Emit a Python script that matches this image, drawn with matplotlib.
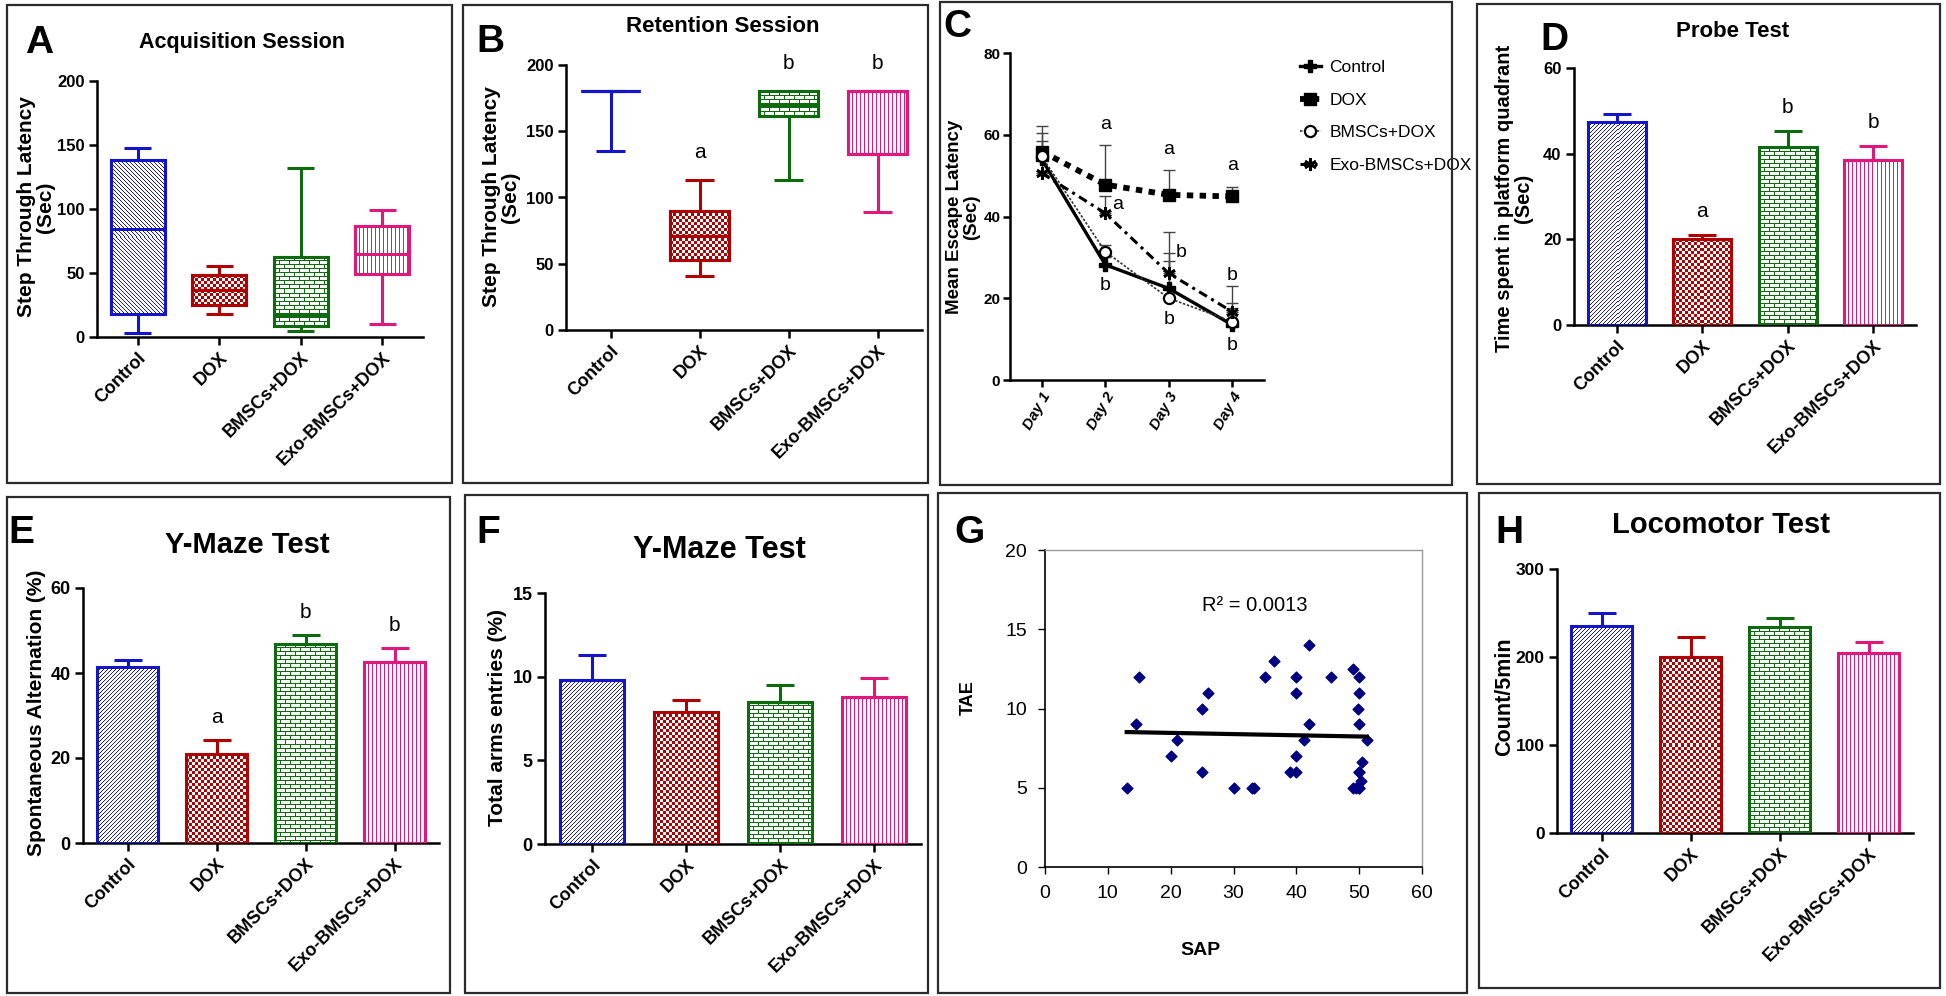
import numpy as np
import matplotlib
matplotlib.use("Agg")
import matplotlib.pyplot as plt
from matplotlib.patches import Rectangle, PathPatch
from matplotlib.colors import to_rgb

plt.rcParams['font.family'] = ['Liberation Sans', 'DejaVu Sans']
plt.rcParams['font.weight'] = 'bold'
plt.rcParams['axes.labelweight'] = 'bold'

# ---- data ----
groups = ['Control', 'DOX', 'BMSCs+DOX', 'Exo-BMSCs+DOX']
colors = ['#1414c8', '#b00000', '#0c6b0c', '#e0187c']

# A: acquisition session (box plots)
acq_whislo = [3, 17.7, 4.7, 10]
acq_q1 = [18, 25, 8.3, 49]
acq_med = [84, 37, 17, 65]
acq_q3 = [138.5, 48.4, 62.5, 87]
acq_whishi = [148, 55.5, 132, 99.5]

# B: retention session (box plots)
ret_whislo = [135, 41, 113, 89]
ret_q1 = [180, 53, 161.5, 133]
ret_med = [180, 71, 170, 180]
ret_q3 = [180, 90, 180, 180]
ret_whishi = [180, 113, 180, 180]
ret_sig = ['', 'a', 'b', 'b']

# C: Morris water maze escape latency
days = [1, 2, 3, 4]
day_labels = ['Day 1', 'Day 2', 'Day 3', 'Day 4']
mwm_control = [54.0, 28.2, 22.4, 13.5]
mwm_control_err = [4.4, 1.8, 6.6, 4.1]
mwm_dox = [55.9, 47.8, 45.3, 44.9]
mwm_dox_err = [6.3, 9.6, 6.1, 2.4]
mwm_bmsc = [54.7, 31.4, 20.0, 14.3]
mwm_bmsc_err = [5.7, 1.6, 11.0, 4.5]
mwm_exo = [50.6, 40.8, 26.1, 16.7]
mwm_exo_err = [3.4, 4.2, 10.2, 6.3]
sig_vs_control = ['', 'a', 'a', 'a']
sig_exo = ['', 'a', 'b', 'b']
sig_treated = ['', 'b', 'b', 'b']

# D: probe test
probe_mean = [47.3, 20.0, 41.5, 38.5]
probe_err = [2.0, 1.1, 3.9, 3.4]
probe_sig = ['', 'a', 'b', 'b']

# E: Y-maze spontaneous alternation
alt_mean = [41.3, 21.0, 46.9, 42.6]
alt_err = [1.8, 3.2, 2.0, 3.3]
alt_sig = ['', 'a', 'b', 'b']

# F: Y-maze total arm entries
arm_mean = [9.8, 7.9, 8.5, 8.8]
arm_err = [1.5, 0.7, 1.0, 1.1]

# G: SAP vs TAE scatter (some markers overlap near SAP 50)
sap = [13, 14.5, 15, 20, 21, 25, 25, 26, 30, 33, 33.3, 35, 36.5, 40, 40, 42,
       41.2, 40, 39, 40, 42, 45.5, 49, 50, 50, 49.8, 50, 51.2, 50.5, 50, 50.3, 49, 50,
       50, 49.5, 50]
tae = [5, 9, 12, 7, 8, 10, 6, 11, 5, 5, 5, 12, 13, 12, 11, 9,
       8, 7, 6, 6, 14, 12, 12.5, 12, 11, 10, 9, 8, 6.6, 6, 5.4, 5, 5,
       5, 5, 6]

# H: locomotor test
loco_mean = [235, 200, 234, 204]
loco_err = [15, 23, 10, 13]

W, H = 1946, 996
fig = plt.figure(figsize=(W / 100, H / 100), dpi=100)


def px_rect(l, t, r, b):
    return [l / W, 1 - b / H, (r - l) / W, (b - t) / H]


def fpos(x, y):
    return (x / W, 1 - y / H)


def fill_pattern(ax, patch, kind, color):
    bb = patch.get_window_extent()
    w, h = int(round(bb.width)), int(round(bb.height))
    if w < 3 or h < 3:
        return
    r, c = np.mgrid[0:h, 0:w]
    if kind == 'diag':
        mask = (r + c) % 4 == 0
    elif kind == 'rdiag':
        mask = (c - r) % 4 == 0
    elif kind == 'checker':
        mask = (r // 3 + c // 3) % 2 == 0
    elif kind == 'brick':
        mask = (r % 4 == 0) | ((c + 5 * ((r // 4) % 2)) % 10 == 0)
    else:
        mask = c % 4 == 0
    img = np.ones((h, w, 4))
    img[mask, :3] = to_rgb(color)
    inv = ax.transData.inverted()
    (x0, y0), (x1, y1) = inv.transform([(bb.x0, bb.y0), (bb.x1, bb.y1)])
    im = ax.imshow(img, extent=(x0, x1, y0, y1), origin='upper', aspect='auto',
                   interpolation='nearest', zorder=2.5)
    im.set_clip_path(patch)


def prism_axes(ax, ymax, step, ysize=12):
    ax.set_xlim(-0.5, 3.5)
    ax.set_ylim(0, ymax)
    ax.set_autoscale_on(False)
    for s in ['top', 'right']:
        ax.spines[s].set_visible(False)
    for s in ['left', 'bottom']:
        ax.spines[s].set_linewidth(1.8)
    ax.set_yticks(np.arange(0, ymax + step / 2, step))
    ax.tick_params(length=6, width=1.8, labelsize=ysize, pad=3)
    ax.set_xticks(range(4))
    ax.set_xticklabels(groups, rotation=45, ha='right', rotation_mode='anchor',
                       fontsize=13, fontweight='bold')


def ylab(ax, text, x, y, size):
    ax.set_ylabel(text, fontsize=size, linespacing=1.05)
    ax.yaxis.set_label_coords(*fpos(x, y), transform=fig.transFigure)
    ax.yaxis.label.set_verticalalignment('center')


def boxes(ax, lo, q1, med, q3, hi, pats):
    stats = [dict(whislo=a, q1=b, med=m, q3=d, whishi=e)
             for a, b, m, d, e in zip(lo, q1, med, q3, hi)]
    art = ax.bxp(stats, positions=range(4), widths=0.66, showfliers=False,
                 patch_artist=True, capwidths=0.33, manage_ticks=False)
    for i, col in enumerate(colors):
        box = art['boxes'][i]
        box.set_facecolor('white')
        box.set_edgecolor(col)
        box.set_linewidth(2.2)
        box.set_zorder(2)
        fill_pattern(ax, box, pats[i], col)
        ax.add_patch(PathPatch(box.get_path(), transform=box.get_transform(), fill=False,
                               edgecolor=col, linewidth=2.2, zorder=3))
        art['medians'][i].set(color=col, linewidth=2.2, zorder=3.5)
        for ln in art['whiskers'][2 * i:2 * i + 2] + art['caps'][2 * i:2 * i + 2]:
            ln.set(color=col, linewidth=2.2, solid_capstyle='butt')


def bars(ax, means, errs):
    x = np.arange(4)
    for i, col in enumerate(colors):
        ax.errorbar(x[i], means[i], yerr=[[0], [errs[i]]], fmt='none', ecolor=col,
                    elinewidth=2.2, capsize=10, capthick=2.2, zorder=1.5)
    bs = ax.bar(x, means, 0.68, color='white', edgecolor='none', zorder=2)
    for b, pat, col in zip(bs, ['diag', 'checker', 'brick', 'vline'], colors):
        fill_pattern(ax, b, pat, col)
    ax.bar(x, means, 0.68, fill=False, edgecolor=colors, linewidth=2.2, zorder=3)


def sig_letters(ax, tops, letters, gap):
    for i, (t, s) in enumerate(zip(tops, letters)):
        if s:
            ax.text(i, t + gap, s, ha='center', va='baseline', fontsize=15,
                    fontweight='normal')


# ---- A ----
axA = fig.add_axes(px_rect(97, 81, 423, 337))
prism_axes(axA, 200, 50)
boxes(axA, acq_whislo, acq_q1, acq_med, acq_q3, acq_whishi,
      ['rdiag', 'checker', 'brick', 'vline'])
ylab(axA, 'Step Through Latency\n(Sec)', 36, 207, 15)

# ---- B ----
axB = fig.add_axes(px_rect(566, 65, 922, 330))
prism_axes(axB, 200, 50)
boxes(axB, ret_whislo, ret_q1, ret_med, ret_q3, ret_whishi,
      ['rdiag', 'checker', 'brick', 'vline'])
sig_letters(axB, ret_whishi, ret_sig, 17)
ylab(axB, 'Step Through Latency\n(Sec)', 501, 197, 15)

# ---- C ----
axC = fig.add_axes(px_rect(1010, 53, 1264, 380))
axC.set_xlim(0.5, 4.5)
axC.set_ylim(0, 80)
for s in ['top', 'right']:
    axC.spines[s].set_visible(False)
for s in ['left', 'bottom']:
    axC.spines[s].set_linewidth(1.8)
series = [
    ('Control', mwm_control, mwm_control_err,
     dict(ls='-', lw=2.4, marker='P', ms=8, color='black')),
    ('DOX', mwm_dox, mwm_dox_err,
     dict(ls=(0, (1.1, 1.1)), lw=4.2, marker='s', ms=8, color='black')),
    ('BMSCs+DOX', mwm_bmsc, mwm_bmsc_err,
     dict(ls=(0, (1.5, 1)), lw=1.2, marker='o', ms=8, color='#333333',
          mfc='white', mec='black', mew=1.6)),
    ('Exo-BMSCs+DOX', mwm_exo, mwm_exo_err,
     dict(ls=(0, (3, 1.6, 1, 1.6)), lw=2.2, marker=(6, 2, 0), ms=9, mew=2,
          color='black')),
]
handles = []
for name, m, e, kw in series:
    axC.errorbar(days, m, yerr=[np.zeros(4), e], fmt='none', ecolor='#444444',
                 elinewidth=1, capsize=4, capthick=1, zorder=2)
    h, = axC.plot(days, m, label=name, zorder=3, **kw)
    handles.append(h)
axC.set_yticks([0, 20, 40, 60, 80])
axC.set_xticks(days)
axC.set_xticklabels(day_labels, rotation=60, ha='right', rotation_mode='anchor',
                    fontsize=13, fontstyle='italic', fontweight='bold')
axC.tick_params(length=5, width=1.8, labelsize=11, pad=2)
dox_top = np.add(mwm_dox, mwm_dox_err)
exo_top = np.add(mwm_exo, mwm_exo_err)
low = np.minimum(mwm_control, mwm_bmsc)
for i, d in enumerate(days):
    if sig_vs_control[i]:
        axC.text(d, dox_top[i] + 4, sig_vs_control[i], ha='center', va='baseline',
                 fontsize=14, fontweight='normal')
    if sig_treated[i]:
        axC.text(d, low[i] - 3, sig_treated[i], ha='center', va='top',
                 fontsize=14, fontweight='normal')
    if sig_exo[i] and d < 4:
        axC.text(d + 0.2, (mwm_exo[i] + exo_top[i]) / 2, sig_exo[i], ha='center',
                 va='center', fontsize=14, fontweight='normal')
    elif sig_exo[i]:
        axC.text(d, exo_top[i] + 1.5, sig_exo[i], ha='center', va='baseline',
                 fontsize=14, fontweight='normal')
ylab(axC, 'Mean Escape Latency\n(Sec)', 963, 217, 13.5)
axC.legend(handles=handles, loc='upper left', bbox_to_anchor=fpos(1300, 60),
           bbox_transform=fig.transFigure, frameon=False, handlelength=1.2,
           handletextpad=0.5, labelspacing=1.0, borderpad=0, borderaxespad=0,
           prop={'size': 12.5, 'weight': 'normal'})

# ---- D ----
axD = fig.add_axes(px_rect(1574, 68, 1916, 325))
prism_axes(axD, 60, 20)
bars(axD, probe_mean, probe_err)
sig_letters(axD, np.add(probe_mean, probe_err), probe_sig, 4)
ylab(axD, 'Time spent in platform quadrant\n(Sec)', 1514, 198, 14.5)

# ---- E ----
axE = fig.add_axes(px_rect(83, 588, 439, 843))
prism_axes(axE, 60, 20, ysize=13)
bars(axE, alt_mean, alt_err)
sig_letters(axE, np.add(alt_mean, alt_err), alt_sig, 4)
ylab(axE, 'Spontaneous Alternation (%)', 37, 713, 15)

# ---- F ----
axF = fig.add_axes(px_rect(545, 593, 921, 844))
prism_axes(axF, 15, 5, ysize=13)
bars(axF, arm_mean, arm_err)
ylab(axF, 'Total arms entries (%)', 497, 718, 15)

# ---- G ----
axG = fig.add_axes(px_rect(1045, 550, 1422, 867))
axG.scatter(sap, tae, marker='D', s=30, color='#000080', zorder=3)
coef = np.polyfit(sap, tae, 1)
xs = np.array([min(sap), max(sap)])
axG.plot(xs, np.polyval(coef, xs), color='black', lw=3, zorder=4)
axG.set_xlim(0, 60)
axG.set_ylim(0, 20)
axG.set_xticks(range(0, 61, 10))
axG.set_yticks(range(0, 21, 5))
for s in ['top', 'right']:
    axG.spines[s].set_color('#9a9a9a')
    axG.spines[s].set_linewidth(1)
for s in ['left', 'bottom']:
    axG.spines[s].set_linewidth(1.2)
axG.tick_params(length=5, width=1, labelsize=14, pad=8)
for lbl in axG.get_xticklabels() + axG.get_yticklabels():
    lbl.set_fontweight('normal')
axG.text(33.4, 16.5, 'R\u00b2 = 0.0013', ha='center', va='center', fontsize=14.5,
         fontweight='normal')
axG.set_xlabel('SAP', fontsize=14)
axG.xaxis.set_label_coords(*fpos(1200, 950), transform=fig.transFigure)
axG.xaxis.label.set_verticalalignment('center')
ylab(axG, 'TAE', 968, 698, 13)

# ---- H ----
axH = fig.add_axes(px_rect(1557, 569, 1913, 833))
prism_axes(axH, 300, 100, ysize=12.5)
bars(axH, loco_mean, loco_err)
ylab(axH, 'Count/5min', 1505, 697, 15.5)

# ---- titles, panel letters, frames ----
titles = [('Acquisition Session', 242, 48, 15.5), ('Retention Session', 723, 32, 16),
          ('Probe Test', 1733, 37, 16), ('Y-Maze Test', 247, 553, 21),
          ('Y-Maze Test', 719, 558, 22), ('Locomotor Test', 1721, 533, 21)]
for t, x, y, s in titles:
    fig.text(*fpos(x, y), t, ha='center', va='baseline', fontsize=s)

letters = [('A', 39, 53), ('B', 490, 52), ('C', 957, 37), ('D', 1554, 50),
           ('E', 21, 543), ('F', 488, 543), ('G', 969, 543), ('H', 1509, 543)]
for t, x, y in letters:
    fig.text(*fpos(x, y), t, ha='center', va='baseline', fontsize=28)

frames = [(7, 5, 452, 483), (463, 5, 928, 483), (940, 2, 1452, 485), (1477, 4, 1940, 484),
          (7, 497, 450, 993), (465, 495, 928, 993), (938, 493, 1467, 993),
          (1479, 493, 1940, 988)]
for l, t, r, b in frames:
    fig.add_artist(Rectangle(fpos(l, b), (r - l) / W, (b - t) / H, transform=fig.transFigure,
                             fill=False, edgecolor='#2b2b2b', linewidth=1.6))

fig.savefig('out.png', dpi=100)
